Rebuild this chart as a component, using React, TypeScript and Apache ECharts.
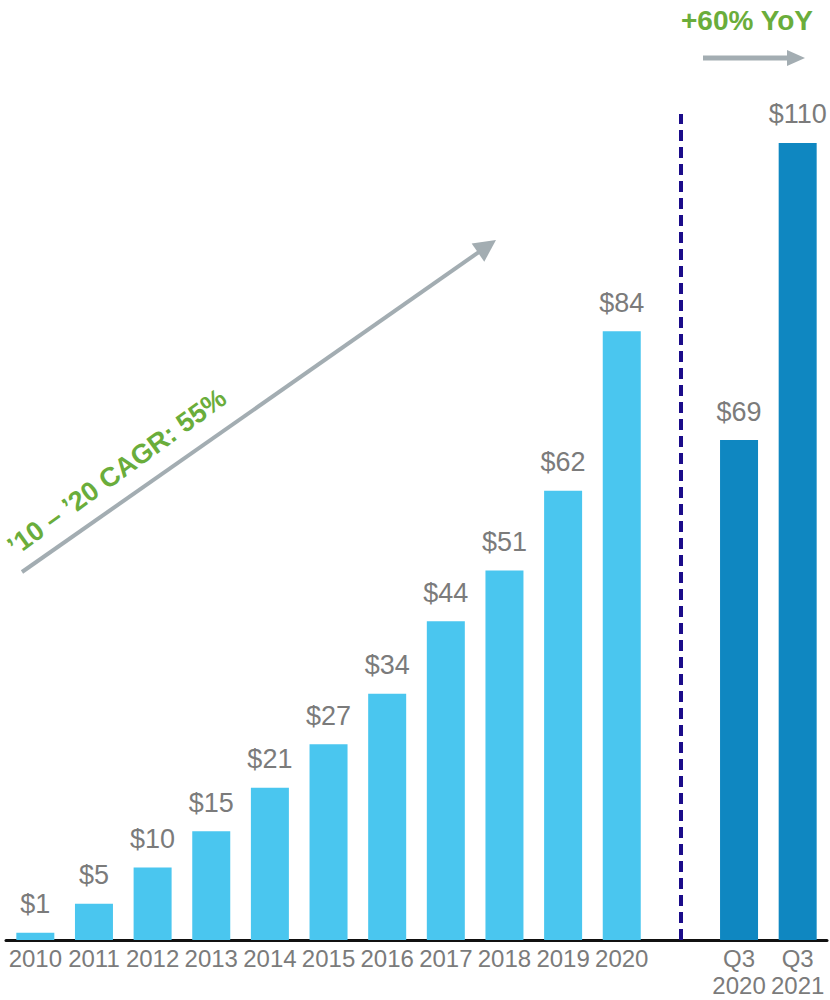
import React, { useEffect, useRef } from "react";
import * as echarts from "echarts";

const categories = ["2010", "2011", "2012", "2013", "2014", "2015", "2016", "2017", "2018", "2019", "2020", "", "Q3\n2020", "Q3\n2021"];
const annualValues = [1, 5, 10, 15, 21, 27, 34, 44, 51, 62, 84, "-", "-", "-"];
const quarterValues = ["-", "-", "-", "-", "-", "-", "-", "-", "-", "-", "-", "-", 69, 110];
const dividerIndex = 11;
const cagrText = "\u201910 \u2013 \u201920 CAGR: 55%";
const yoyText = "+60% YoY";

const FONT = "'Liberation Sans', Arial, sans-serif";
const GREY_TEXT = "#7b7b7b";
const ARROW = "#a3adb2";
const GREEN = "#6aad3b";

function arrow(x1: number, y1: number, x2: number, y2: number, w: number, headLen: number, headHalf: number) {
  const dx = x2 - x1;
  const dy = y2 - y1;
  const len = Math.sqrt(dx * dx + dy * dy);
  const ux = dx / len;
  const uy = dy / len;
  const bx = x2 - ux * headLen;
  const by = y2 - uy * headLen;
  const px = -uy;
  const py = ux;
  return [
    {
      type: "line",
      shape: { x1, y1, x2: bx + ux * 1, y2: by + uy * 1 },
      style: { stroke: ARROW, lineWidth: w },
      silent: true,
    },
    {
      type: "polygon",
      shape: {
        points: [
          [x2, y2],
          [bx + px * headHalf, by + py * headHalf],
          [bx - px * headHalf, by - py * headHalf],
        ],
      },
      style: { fill: ARROW },
      silent: true,
    },
  ];
}

export default function App() {
  const ref = useRef<HTMLDivElement>(null);
  useEffect(() => {
    if (!ref.current) return;
    const chart = echarts.init(ref.current, null, { renderer: "svg" });
    const labelCfg = {
      show: true,
      position: "top",
      distance: 15,
      fontSize: 27,
      color: GREY_TEXT,
      fontFamily: FONT,
      formatter: (p: any) => "$" + p.value,
    };
    chart.setOption({
      animation: false,
      grid: { left: 6, right: 3, top: 114, bottom: 60, containLabel: false },
      xAxis: {
        type: "category",
        data: categories,
        axisLine: { show: true, lineStyle: { color: "#111111", width: 3 } },
        axisTick: { show: false },
        axisLabel: {
          color: GREY_TEXT,
          fontSize: 24,
          lineHeight: 27,
          margin: 5,
          fontFamily: FONT,
          interval: 0,
        },
      },
      yAxis: {
        type: "value",
        min: 0,
        max: 114,
        show: false,
        splitLine: { show: false },
      },
      series: [
        {
          type: "bar",
          stack: "all",
          data: annualValues,
          barWidth: 38,
          itemStyle: { color: "#4ac6ef" },
          label: labelCfg,
          markLine: {
            silent: true,
            symbol: ["none", "none"],
            label: { show: false },
            lineStyle: { color: "#1b0c8a", width: 4, type: [11, 6] },
            data: [{ xAxis: dividerIndex }],
          },
        },
        {
          type: "bar",
          stack: "all",
          data: quarterValues,
          barWidth: 38,
          itemStyle: { color: "#0f87c1" },
          label: labelCfg,
        },
      ],
      graphic: [
        ...arrow(22, 572, 496, 240, 4, 22, 11),
        ...arrow(703, 58, 805, 58, 5, 18, 8),
        {
          type: "text",
          x: 747,
          y: 20,
          silent: true,
          style: {
            text: yoyText,
            fill: GREEN,
            font: `bold 28px ${FONT}`,
            textAlign: "center",
            textVerticalAlign: "middle",
          },
        },
        {
          type: "text",
          x: 117,
          y: 472,
          rotation: (36 * Math.PI) / 180,
          silent: true,
          style: {
            text: cagrText,
            fill: GREEN,
            font: `bold 27px ${FONT}`,
            textAlign: "center",
            textVerticalAlign: "middle",
          },
        },
      ],
    });
    return () => chart.dispose();
  }, []);
  return (
    <div
      ref={ref}
      style={{ position: "absolute", left: 0, top: 0, width: 830, height: 1000, background: "#ffffff" }}
    />
  );
}
